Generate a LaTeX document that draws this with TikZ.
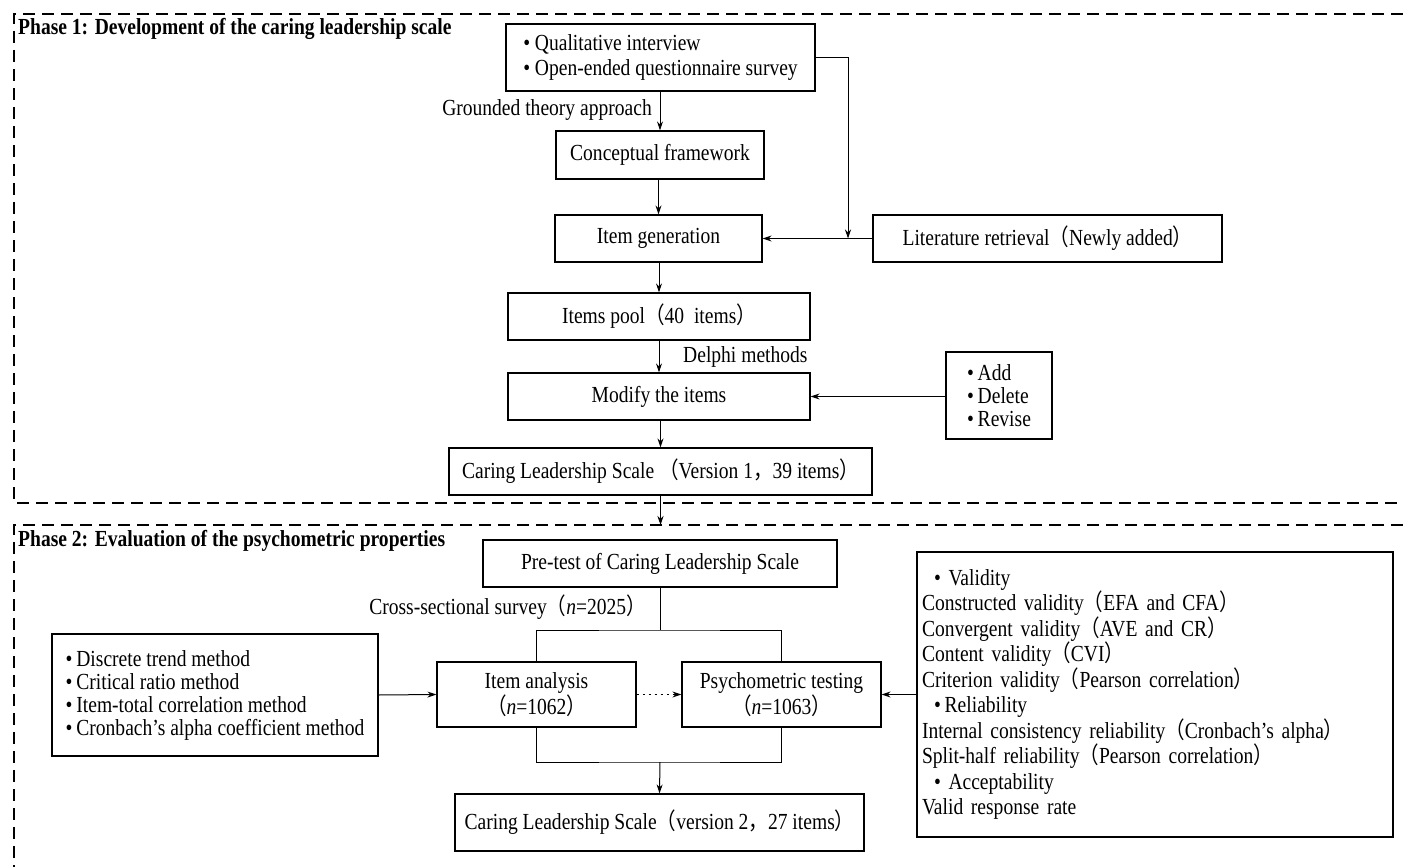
\documentclass[tikz,border=0pt]{standalone}
\usepackage{fontspec}
\setmainfont{Liberation Serif}[FakeStretch=0.85]
\newfontfamily\cjkfont{Noto Sans CJK SC}[FakeStretch=0.85]
\newcommand{\fwl}{{\cjkfont （}}
\newcommand{\fwr}{{\cjkfont ）}}
\newcommand{\fwc}{{\cjkfont ，}}
\usetikzlibrary{arrows.meta}
\begin{document}
\begin{tikzpicture}[x=1pt,y=-1pt,
  box/.style={draw,line width=1.2pt,inner sep=0pt,align=center,font=\fontsize{23}{23}\selectfont},
  lbl/.style={inner sep=0pt,font=\fontsize{23}{23}\selectfont},
  arr/.style={line width=1pt,-{Stealth[length=9pt,width=6pt]}},
  ln/.style={line width=1pt},
  phase/.style={line width=1.2pt,dash pattern=on 12pt off 7pt},
  ttl/.style={inner sep=0pt,anchor=west,font=\fontsize{23}{24}\selectfont\bfseries}]
\useasboundingbox (0,0) rectangle (1403,867);

% phase frames
\draw[phase] (1403,14) -- (14,14) -- (14,503) -- (1403,503);
\draw[phase] (1403,525) -- (14,525) -- (14,867);
\node[ttl] (T1) at (18,29) {Phase 1: Development of the caring leadership scale};
\node[ttl] (T2) at (18,541) {Phase 2: Evaluation of the psychometric properties};

% phase 1 nodes
\node[box,align=left,minimum width=309pt,minimum height=67pt,font=\fontsize{23}{25}\selectfont] (Q) at (660.5,57.5)
  {\textbullet\ Qualitative interview\\\textbullet\ Open-ended questionnaire survey};
\node[box,minimum width=208pt,minimum height=48pt] (CF) at (660,155) {Conceptual framework};
\node[box,minimum width=207pt,minimum height=47pt] (IG) at (658.5,238.5) {Item generation};
\node[box,minimum width=349pt,minimum height=47pt] (LR) at (1047.5,238.5) {Literature retrieval\fwl Newly added\fwr};
\node[box,minimum width=302pt,minimum height=47pt] (IP) at (659,316.5) {Items pool\fwl 40\ \ items\fwr};
\node[box,minimum width=302pt,minimum height=47pt] (MI) at (659,396.5) {Modify the items};
\node[box,align=left,minimum width=106pt,minimum height=87pt] (ADR) at (999,395.5)
  {\textbullet\,Add\\\textbullet\,Delete\\\textbullet\,Revise};
\node[box,minimum width=423pt,minimum height=47pt] (CL1) at (660.5,471.5) {Caring Leadership Scale \fwl Version 1\fwc 39 items\fwr};

\node[lbl,anchor=east] (GT) at (652,110) {Grounded theory approach};
\node[lbl,anchor=west] (DL) at (683,357) {Delphi methods};

% phase 1 connectors
\draw[arr] (CF.north |- Q.south) -- (CF.north);
\draw[arr] (IG.north |- CF.south) -- (IG.north);
\coordinate (J1) at (848,238.5);
\draw[arr] (Q.east) -| (J1);
\draw[arr] (LR.west) -- (IG.east);
\draw[arr] (IP.north |- IG.south) -- (IP.north);
\draw[arr] (IP.south) -- (MI.north);
\draw[arr] (MI.east -| ADR.west) -- (MI.east);
\draw[arr] (CL1.north |- MI.south) -- (CL1.north);
\coordinate (P2) at (660.5,525);
\draw[arr] (CL1.south) -- (P2);

% phase 2 nodes
\node[box,minimum width=354pt,minimum height=47pt] (PT) at (660,563.5) {Pre-test of Caring Leadership Scale};
\node[box,minimum width=199pt,minimum height=65pt] (IA) at (536.5,694.5) {Item analysis\\\fwl\textit{n}=1062\fwr};
\node[box,minimum width=199pt,minimum height=65pt] (PS) at (781.5,694.5) {Psychometric testing\\\fwl\textit{n}=1063\fwr};
\node[box,align=left,minimum width=326pt,minimum height=122pt] (DM) at (215,695)
  {\textbullet\,Discrete trend method\\\textbullet\,Critical ratio method\\\textbullet\,Item-total correlation method\\\textbullet\,Cronbach’s alpha coefficient method};
\node[box,align=left,text width=466pt,inner xsep=5pt,minimum height=285pt,font=\fontsize{23}{25.5}\selectfont] (VB) at (1155,694.5)
  {\hspace*{12pt}\textbullet\ Validity\\
   Constructed validity\fwl EFA and CFA\fwr\\
   Convergent validity\fwl AVE and CR\fwr\\
   Content validity\fwl CVI\fwr\\
   Criterion validity\fwl Pearson correlation\fwr\\
   \hspace*{12pt}\textbullet\,Reliability\\
   Internal consistency reliability\fwl Cronbach’s alpha\fwr\\
   Split-half reliability\fwl Pearson correlation\fwr\\
   \hspace*{12pt}\textbullet\ Acceptability\\
   Valid response rate};
\node[box,minimum width=409pt,minimum height=57pt] (CL2) at (659.5,822.5) {Caring Leadership Scale\fwl version 2\fwc 27 items\fwr};

\node[lbl,anchor=east] (CS) at (646,607) {Cross-sectional survey\fwl\textit{n}=2025\fwr};

% phase 2 connectors
\coordinate (F1) at (660,630);
\draw[ln] (PT.south) -- (F1);
\draw[ln] (IA.north) |- (F1) -| (PS.north);
\draw[arr,dash pattern=on 2pt off 4pt] (IA.east) -- (PS.west);
\draw[arr] (DM.east) -- (IA.west);
\draw[arr] (VB.west) -- (PS.east);
\coordinate (M1) at (660,762);
\draw[ln] (IA.south) |- (M1) -| (PS.south);
\draw[arr] (M1) -- (CL2.north);
\end{tikzpicture}
\end{document}
